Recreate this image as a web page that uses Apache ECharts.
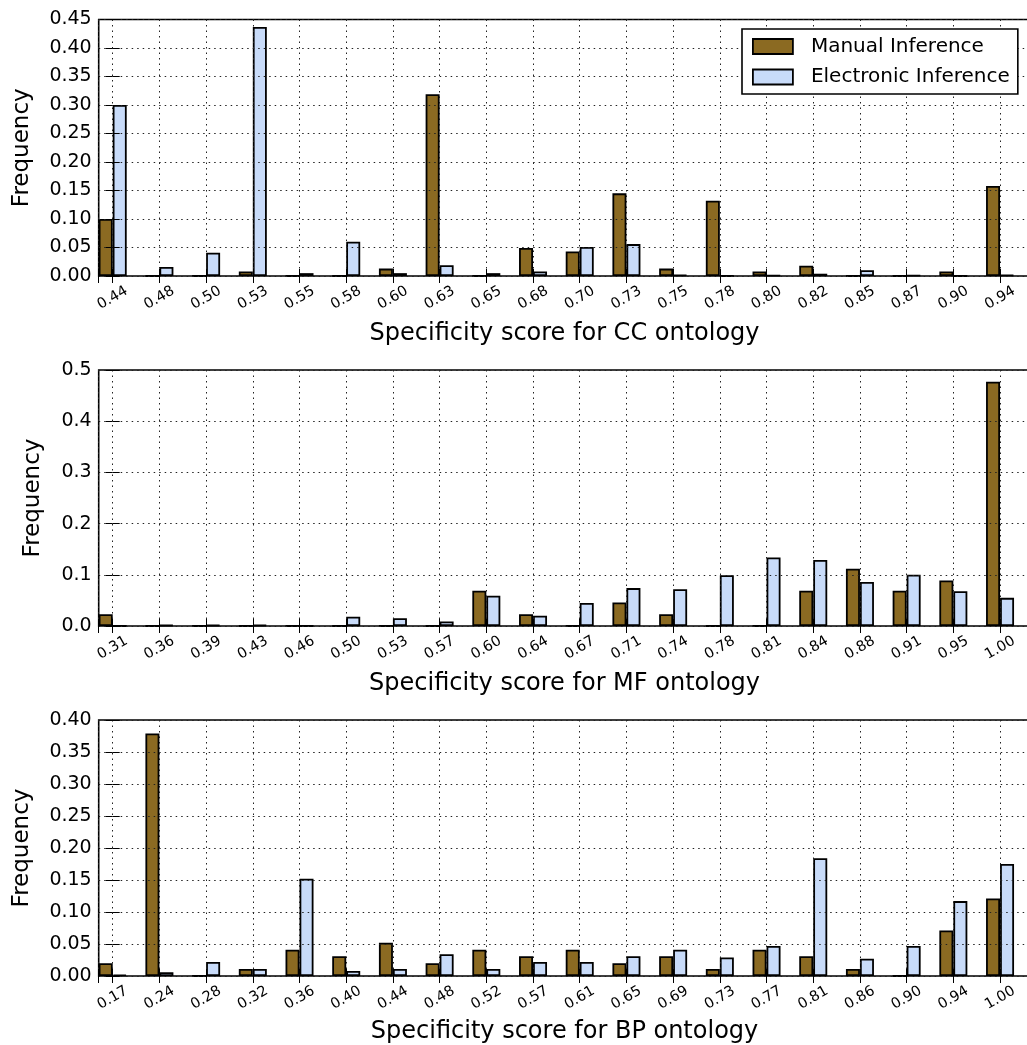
<!DOCTYPE html>
<html>
<head>
<meta charset="utf-8">
<script src="https://cdn.jsdelivr.net/npm/echarts@6/dist/echarts.min.js"></script>
<style>
html,body{margin:0;padding:0;background:#fff;}
#chart{width:1027px;height:1045px;}
</style>
</head>
<body>
<div id="chart"></div>
<script>
const seriesNames = ['Manual Inference', 'Electronic Inference'];

const ccLabels = ['0.44','0.48','0.50','0.53','0.55','0.58','0.60','0.63','0.65','0.68','0.70','0.73','0.75','0.78','0.80','0.82','0.85','0.87','0.90','0.94'];
const ccManual = [0.100, 0.000, 0.000, 0.008, 0.000, 0.000, 0.013, 0.319, 0.000, 0.049, 0.043, 0.145, 0.013, 0.132, 0.008, 0.018, 0.000, 0.000, 0.008, 0.158];
const ccElectronic = [0.300, 0.016, 0.041, 0.437, 0.005, 0.060, 0.005, 0.019, 0.005, 0.008, 0.051, 0.056, 0.002, 0.000, 0.001, 0.004, 0.010, 0.001, 0.000, 0.002];

const mfLabels = ['0.31','0.36','0.39','0.43','0.46','0.50','0.53','0.57','0.60','0.64','0.67','0.71','0.74','0.78','0.81','0.84','0.88','0.91','0.95','1.00'];
const mfManual = [0.023, 0.000, 0.000, 0.000, 0.000, 0.000, 0.000, 0.000, 0.069, 0.023, 0.000, 0.046, 0.023, 0.000, 0.000, 0.069, 0.112, 0.069, 0.089, 0.477];
const mfElectronic = [0.000, 0.002, 0.002, 0.002, 0.000, 0.018, 0.015, 0.009, 0.059, 0.020, 0.045, 0.074, 0.072, 0.099, 0.134, 0.129, 0.086, 0.100, 0.068, 0.055];

const bpLabels = ['0.17','0.24','0.28','0.32','0.36','0.40','0.44','0.48','0.52','0.57','0.61','0.65','0.69','0.73','0.77','0.81','0.86','0.90','0.94','1.00'];
const bpManual = [0.020, 0.379, 0.000, 0.011, 0.041, 0.031, 0.052, 0.020, 0.041, 0.031, 0.041, 0.020, 0.031, 0.011, 0.041, 0.031, 0.011, 0.000, 0.071, 0.121];
const bpElectronic = [0.002, 0.006, 0.022, 0.011, 0.152, 0.008, 0.011, 0.034, 0.011, 0.022, 0.022, 0.031, 0.041, 0.029, 0.047, 0.184, 0.027, 0.047, 0.117, 0.175];

const panelNames = ['Specificity score for CC ontology', 'Specificity score for MF ontology', 'Specificity score for BP ontology'];
const yMax = [0.45, 0.5, 0.40];
const yInterval = [0.05, 0.1, 0.05];
const yDecimals = [2, 1, 2];

const panels = [
  {labels: ccLabels, manual: ccManual, electronic: ccElectronic},
  {labels: mfLabels, manual: mfManual, electronic: mfElectronic},
  {labels: bpLabels, manual: bpManual, electronic: bpElectronic}
];

const FONT = 'DejaVu Sans';
const manualColor = '#8B6A22';
const electronicColor = '#C8DBF9';
const gridTops = [19.5, 370, 720];
const gridH = [256.5, 256, 256];
const xNameGap = [46, 46, 44];
const yNameGap = [65, 54, 65];
const XMIN = -0.3, XMAX = 19.65;

const dotted = {type: [1.5, 4], color: '#222', width: 1};

const grids = [], xAxes = [], yAxes = [], series = [];
panels.forEach((p, k) => {
  grids.push({
    left: 98.7, top: gridTops[k], width: 931.7, height: gridH[k],
    show: true, borderColor: '#000', borderWidth: 1.6, backgroundColor: 'transparent',
    outerBoundsMode: 'none', containLabel: false
  });
  const labels = p.labels;
  xAxes.push({
    type: 'value', gridIndex: k, position: 'bottom', z: 3,
    min: XMIN, max: XMAX, splitNumber: 20, minInterval: 1, maxInterval: 1,
    axisLine: {show: false},
    axisTick: {show: true, inside: true, length: 7, lineStyle: {color: '#000', width: 1}},
    axisLabel: {
      show: true, rotate: 30, align: 'center', verticalAlign: 'middle', margin: 22,
      fontSize: 14.5, fontFamily: FONT, color: '#000', showMinLabel: true, showMaxLabel: true,
      formatter: v => {
        const i = Math.round(v);
        return (Math.abs(v - i) < 1e-6 && i >= 0 && i < labels.length) ? labels[i] : '';
      }
    },
    splitLine: {show: true, lineStyle: dotted},
    name: panelNames[k], nameLocation: 'middle', nameGap: xNameGap[k],
    nameTextStyle: {fontSize: 24, fontFamily: FONT, color: '#000'}
  });
  xAxes.push({
    type: 'value', gridIndex: k, position: 'top', z: 3,
    min: XMIN, max: XMAX, splitNumber: 20, minInterval: 1, maxInterval: 1,
    axisLine: {show: false},
    axisTick: {show: true, inside: true, length: 7, lineStyle: {color: '#000', width: 1}},
    axisLabel: {show: false},
    splitLine: {show: false}
  });
  const dec = yDecimals[k];
  yAxes.push({
    type: 'value', gridIndex: k, position: 'left', z: 3,
    min: 0, max: yMax[k], interval: yInterval[k],
    axisLine: {show: false},
    axisTick: {show: true, inside: true, length: 7, lineStyle: {color: '#000', width: 1}},
    axisLabel: {fontSize: 19, fontFamily: FONT, color: '#000', margin: 7, formatter: v => v.toFixed(dec)},
    splitLine: {show: true, lineStyle: dotted},
    name: 'Frequency', nameLocation: 'middle', nameGap: yNameGap[k],
    nameTextStyle: {fontSize: 23, fontFamily: FONT, color: '#000'}
  });
  yAxes.push({
    type: 'value', gridIndex: k, position: 'right', z: 3,
    min: 0, max: yMax[k], interval: yInterval[k],
    axisLine: {show: false},
    axisTick: {show: true, inside: true, length: 7, lineStyle: {color: '#000', width: 1}},
    axisLabel: {show: false},
    splitLine: {show: false}
  });
  series.push({
    name: seriesNames[0], type: 'bar', xAxisIndex: 2 * k, yAxisIndex: 2 * k,
    barWidth: 14, barGap: '0%',
    itemStyle: {color: manualColor, borderColor: '#000', borderWidth: 1.8},
    data: p.manual.map((v, i) => [i, v])
  });
  series.push({
    name: seriesNames[1], type: 'bar', xAxisIndex: 2 * k, yAxisIndex: 2 * k,
    barWidth: 14, barGap: '0%',
    itemStyle: {color: electronicColor, borderColor: '#000', borderWidth: 1.8},
    data: p.electronic.map((v, i) => [i, v])
  });
});

const chart = echarts.init(document.getElementById('chart'), null, {renderer: 'canvas'});
chart.setOption({
  animation: false,
  backgroundColor: '#fff',
  grid: grids,
  xAxis: xAxes,
  yAxis: yAxes,
  legend: {
    orient: 'vertical', left: 742, top: 29, z: 10,
    data: seriesNames, icon: 'rect', itemWidth: 40, itemHeight: 15, itemGap: 10.5,
    padding: [7.5, 8, 7, 10],
    borderColor: '#000', borderWidth: 1.6, borderRadius: 0, backgroundColor: '#fff',
    selectedMode: false,
    itemStyle: {borderColor: '#000', borderWidth: 1.8},
    textStyle: {fontSize: 20, fontFamily: FONT, color: '#000', lineHeight: 20, padding: [0, 0, 0, 13]}
  },
  series: series
});
</script>
</body>
</html>
